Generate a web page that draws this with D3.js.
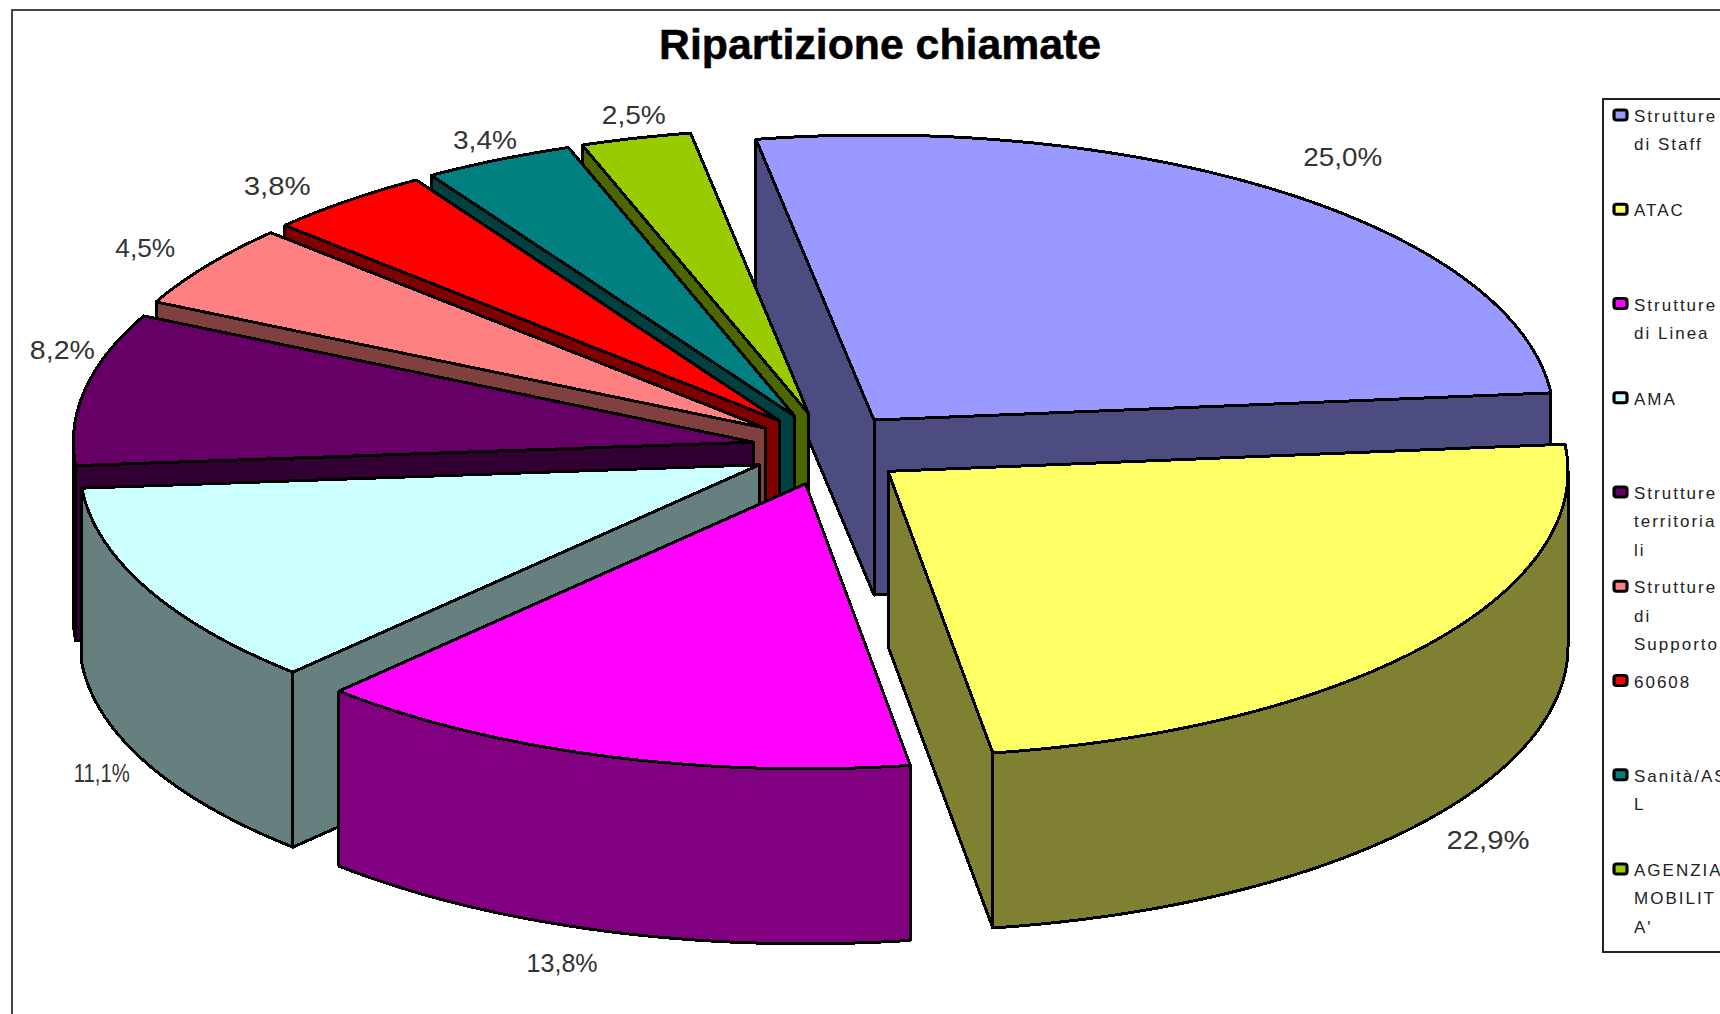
<!DOCTYPE html>
<html><head><meta charset="utf-8">
<script src="https://cdnjs.cloudflare.com/ajax/libs/d3/7.8.5/d3.min.js"></script>
<style>html,body{margin:0;padding:0;background:#fff;overflow:hidden}svg{display:block}</style>
</head><body><svg id="c" width="1720" height="1014"></svg>
<script>
const categories = ["Strutture di Staff","ATAC","Strutture di Linea","AMA","Strutture territoriali","Strutture di Supporto","60608","Sanità/ASL","AGENZIA MOBILITA'"];
const values = [25.0,22.9,13.8,11.1,8.2,4.5,3.8,3.4,2.5];
const valueLabels = ["25,0%","22,9%","13,8%","11,1%","8,2%","4,5%","3,8%","3,4%","2,5%"];
const topColors = ["#9999FF","#FFFF66","#FF00FF","#CCFFFF","#660066","#FF8080","#FF0000","#008080","#99CC00"];
const wallColors = ["#4C4C80","#808033","#800080","#668080","#330033","#804040","#800000","#004040","#4C6600"];
const legendLines = [["Strutture","di Staff"],["ATAC"],["Strutture","di Linea"],["AMA"],["Strutture","territoria","li"],["Strutture","di","Supporto"],["60608"],["Sanità/AS","L"],["AGENZIA","MOBILIT","A'"]];
const title = "Ripartizione chiamate";

// layout
const rad = Math.PI/180;
const cx = 828, cy = 449, rx = 680, ry = 285, depth = 175;
const explodeX = 76/rx, explodeY = 36.4/ry;
const paintOrder = [0,8,7,6,5,4,3,1,2];
const labelNudge = [[57,-36],[63,19],[-42,32],[-45,10],[-23,-39],[-62,-18],[-70,-15],[-13,-20],[-2,-23]];
const labelWidth = [79,83,71,56,65,60,67,64,64];
const x = d3.scaleLinear().domain([-1,1]).range([cx-rx,cx+rx]);
const y = d3.scaleLinear().domain([-1,1]).range([cy+ry,cy-ry]);

const svg = d3.select("#c");
svg.append("rect").attr("x",12).attr("y",10).attr("width",1800).attr("height",1100)
  .attr("fill","#fff").attr("stroke","#444").attr("stroke-width",2);

svg.append("text").attr("x",880).attr("y",59).attr("text-anchor","middle")
  .attr("font-family","Liberation Sans").attr("font-weight","bold").attr("font-size",42)
  .attr("textLength",442).attr("lengthAdjust","spacingAndGlyphs").attr("fill","#000")
  .attr("stroke","#000").attr("stroke-width",0.5).text(title);

const arcs = d3.pie().sort(null).startAngle(-10*rad).endAngle(350*rad)(values);
const slices = arcs.map((a,i)=>{
  const mid=(a.startAngle+a.endAngle)/2;
  return {i,a0:a.startAngle,a1:a.endAngle,mid,ox:explodeX*Math.sin(mid),oy:explodeY*Math.cos(mid)};
});
const P=(s,t,r=1,d=0)=>[x(s.ox+r*Math.sin(t)),y(s.oy+r*Math.cos(t))+d];
const samples=(a,b)=>{const n=Math.max(2,Math.ceil((b-a)/rad));return d3.range(n+1).map(k=>a+(b-a)*k/n);};
const line=d3.line();
const shapes=svg.append("g").attr("stroke","#000").attr("stroke-width",3).attr("stroke-linejoin","round")
  .attr("shape-rendering","crispEdges");

paintOrder.forEach(idx=>{
  const s=slices[idx];
  const g=shapes.append("g");
  const wall=wallColors[s.i];
  const apex=P(s,0,0);
  const quad=t=>[apex,P(s,t),P(s,t,1,depth),P(s,0,0,depth)];
  if(Math.sin(s.a0)<0) g.append("path").attr("fill",wall).attr("d",line(quad(s.a0))+"Z");
  if(Math.sin(s.a1)>0) g.append("path").attr("fill",wall).attr("d",line(quad(s.a1))+"Z");
  const lo=Math.max(s.a0,90*rad), hi=Math.min(s.a1,270*rad);
  if(hi>lo){
    const ts=samples(lo,hi);
    g.append("path").attr("fill",wall).attr("d",line(ts.map(t=>P(s,t)).concat(ts.slice().reverse().map(t=>P(s,t,1,depth))))+"Z");
  }
  g.append("path").attr("fill",topColors[s.i])
    .attr("d",line([apex].concat(samples(s.a0,s.a1).map(t=>P(s,t))))+"Z");
});

// data labels
slices.forEach(s=>{
  const south=Math.cos(s.mid)<0;
  const p=P(s,s.mid,1,south?depth:0);
  svg.append("text").attr("x",p[0]+labelNudge[s.i][0]).attr("y",p[1]+labelNudge[s.i][1]+9)
    .attr("text-anchor","middle").attr("font-family","Liberation Sans").attr("font-size",25)
    .attr("textLength",labelWidth[s.i]).attr("lengthAdjust","spacingAndGlyphs")
    .attr("fill","#333").text(valueLabels[s.i]);
});

// legend
const legendTop=99, legendRow=d3.scaleLinear().domain([0,8]).range([115,869]);
svg.append("rect").attr("x",1603).attr("y",legendTop).attr("width",200).attr("height",853)
  .attr("fill","#fff").attr("stroke","#222").attr("stroke-width",2);
categories.forEach((c,i)=>{
  const ky=legendRow(i);
  svg.append("rect").attr("x",1614).attr("y",ky-5).attr("width",13).attr("height",10).attr("rx",2.5)
    .attr("fill",topColors[i]).attr("stroke","#000").attr("stroke-width",3.2);
  legendLines[i].forEach((t,k)=>{
    svg.append("text").attr("x",1634).attr("y",ky+7+k*28.4)
      .attr("font-family","Liberation Sans").attr("font-size",17).attr("letter-spacing",2)
      .attr("fill","#222").text(t);
  });
});
</script></body></html>
